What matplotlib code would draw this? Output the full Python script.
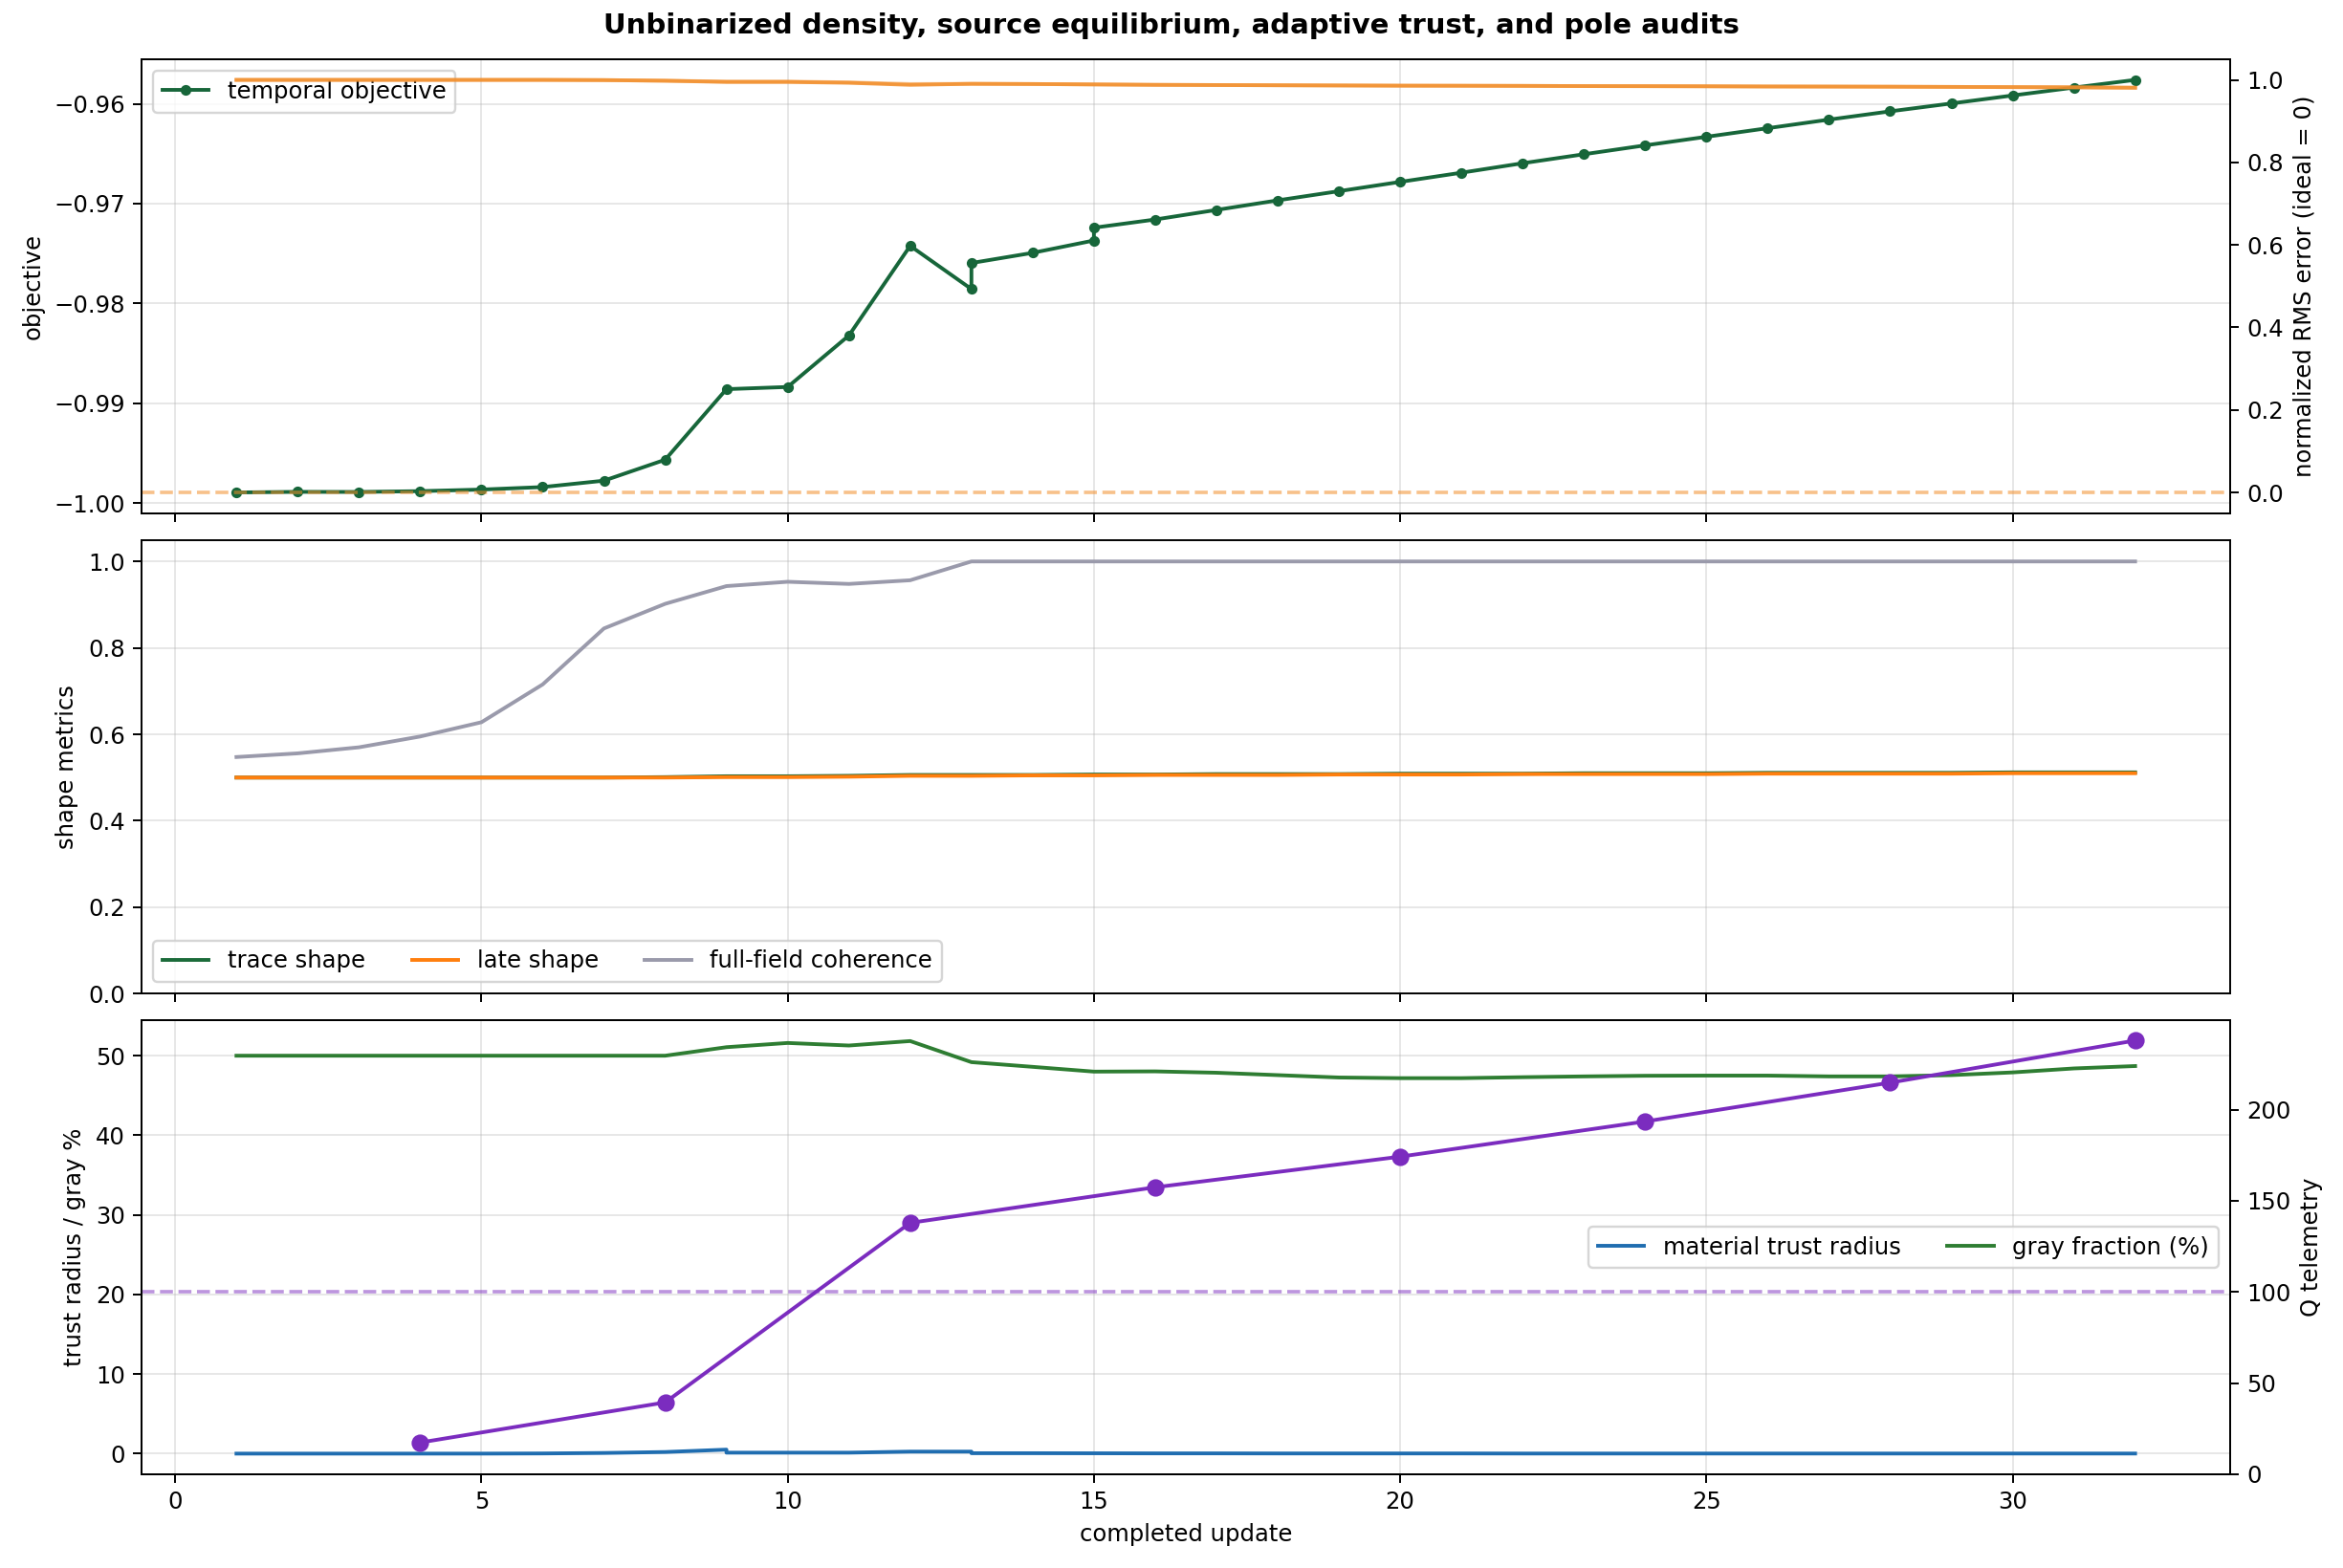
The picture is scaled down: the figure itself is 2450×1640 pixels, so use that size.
import numpy as np
import matplotlib
matplotlib.use("Agg")
import matplotlib.pyplot as plt

# ---------------- data ----------------
obj_x = [1, 2, 3, 4, 5, 6, 7, 8, 9, 10, 11, 12, 13, 13, 14, 15, 15, 16, 17, 18, 19, 20,
         21, 22, 23, 24, 25, 26, 27, 28, 29, 30, 31, 32]
objective = [-0.99895, -0.99889, -0.99890, -0.99882, -0.99866, -0.99841, -0.99777, -0.99567,
             -0.98860, -0.98838, -0.98322, -0.97424, -0.97857, -0.97596, -0.97494, -0.97370,
             -0.97242, -0.97160, -0.97064, -0.96968, -0.96876, -0.96783, -0.96691, -0.96596,
             -0.96506, -0.96417, -0.96331, -0.96245, -0.96159, -0.96076, -0.95997, -0.95917,
             -0.95838, -0.95761]
rms_a = [1.000, 1.000, 1.000, 1.000, 1.000, 1.000, 0.9995, 0.998, 0.995, 0.995, 0.993, 0.988,
         0.9905, 0.9905, 0.990, 0.989, 0.989, 0.988, 0.9875, 0.987, 0.9865, 0.986, 0.9858,
         0.9855, 0.985, 0.9848, 0.9845, 0.984, 0.9838, 0.9835, 0.983, 0.9825, 0.982, 0.981]
rms_b = [1.000, 1.000, 1.000, 1.000, 1.000, 1.000, 0.9995, 0.998, 0.996, 0.996, 0.994, 0.990,
         0.9905, 0.9905, 0.990, 0.989, 0.989, 0.988, 0.9875, 0.987, 0.9865, 0.986, 0.9858,
         0.9855, 0.985, 0.9848, 0.9845, 0.984, 0.9838, 0.9835, 0.983, 0.9825, 0.982, 0.981]

upd = list(range(1, 33))
trace_shape = [0.500, 0.500, 0.500, 0.500, 0.500, 0.500, 0.500, 0.501, 0.503, 0.503, 0.504,
               0.506, 0.506, 0.506, 0.507, 0.507, 0.508, 0.508, 0.508, 0.509, 0.509, 0.509,
               0.510, 0.510, 0.510, 0.511, 0.511, 0.511, 0.511, 0.512, 0.512, 0.512]
late_shape = [0.500, 0.500, 0.500, 0.500, 0.500, 0.500, 0.500, 0.500, 0.501, 0.501, 0.502,
              0.504, 0.504, 0.505, 0.505, 0.506, 0.506, 0.506, 0.507, 0.507, 0.507, 0.508,
              0.508, 0.508, 0.508, 0.509, 0.509, 0.509, 0.509, 0.510, 0.510, 0.510]
coherence = [0.5475, 0.556, 0.570, 0.595, 0.628, 0.7155, 0.845, 0.902, 0.943, 0.953, 0.948,
             0.9565, 1.0, 1.0, 1.0, 1.0, 1.0, 1.0, 1.0, 1.0, 1.0, 1.0, 1.0, 1.0, 1.0, 1.0,
             1.0, 1.0, 1.0, 1.0, 1.0, 1.0]

trust_x = [1, 2, 3, 4, 5, 6, 7, 8, 9, 9, 10, 11, 12, 13, 13, 14, 15, 16, 17, 18, 19, 20,
           21, 22, 23, 24, 25, 26, 27, 28, 29, 30, 31, 32]
trust_radius = [0.0, 0.0, 0.0, 0.0, 0.0, 0.02, 0.08, 0.2, 0.5, 0.12, 0.12, 0.12, 0.25, 0.25,
                0.05, 0.05, 0.04, 0.03, 0.03, 0.02, 0.02, 0.02, 0.02, 0.01, 0.01, 0.01, 0.01,
                0.01, 0.01, 0.01, 0.01, 0.01, 0.01, 0.01]
gray_frac = [50.0, 50.0, 50.0, 50.0, 50.0, 50.0, 50.0, 50.0, 51.07, 51.6, 51.28, 51.84, 49.19,
             48.6, 48.0, 48.03, 47.86, 47.56, 47.26, 47.18, 47.18, 47.3, 47.4, 47.48, 47.5,
             47.5, 47.4, 47.4, 47.56, 47.9, 48.4, 48.7]

q_x = [4, 8, 12, 16, 20, 24, 28, 32]
q_tel = [17.4, 39.4, 137.9, 157.4, 174.2, 193.5, 214.8, 237.9]
q_ref = 100

# ---------------- plot ----------------
DPI = 175
fig, axes = plt.subplots(3, 1, figsize=(2450 / DPI, 1640 / DPI), dpi=DPI, sharex=True)
fig.subplots_adjust(left=0.0604, right=0.9518, top=0.9622, bottom=0.0598, hspace=0.059)
fig.suptitle("Unbinarized density, source equilibrium, adaptive trust, and pole audits",
             fontsize=12, fontweight="bold", y=0.992)

c_obj = "#17663a"
c_rms = "#f28e2b"
LW = 1.6

# top
ax = axes[0]
ax.plot(obj_x, objective, color=c_obj, lw=LW, marker="o", ms=3.6, label="temporal objective")
ax.set_ylabel("objective")
ax.grid(True, alpha=0.3)
ax.legend(loc="upper left")
axr = ax.twinx()
axr.plot(obj_x, rms_b, color=c_rms, lw=LW, alpha=0.5)
axr.plot(obj_x, rms_a, color=c_rms, lw=LW, alpha=0.85)
axr.axhline(0.0, color=c_rms, ls="--", lw=1.5, alpha=0.55)
axr.set_ylabel("normalized RMS error (ideal = 0)")

# middle
ax = axes[1]
ax.plot(upd, trace_shape, color="#1b6b3a", lw=LW, label="trace shape")
ax.plot(upd, late_shape, color="#ff7f0e", lw=LW, label="late shape")
ax.plot(upd, coherence, color="#9a9aab", lw=LW, label="full-field coherence")
ax.set_ylim(0, 1.05)
ax.set_ylabel("shape metrics")
ax.grid(True, alpha=0.3)
ax.legend(loc="lower left", ncol=3)

# bottom
ax = axes[2]
ax.plot(trust_x, trust_radius, color="#1f6db0", lw=LW, label="material trust radius")
ax.plot(upd, gray_frac, color="#2e7d32", lw=LW, label="gray fraction (%)")
ax.set_ylabel("trust radius / gray %")
ax.set_xlabel("completed update")
ax.grid(True, alpha=0.3)
ax.legend(loc="center right", ncol=2)
axq = ax.twinx()
axq.plot(q_x, q_tel, color="#7b2cbf", lw=LW, marker="o", ms=6.5)
axq.axhline(q_ref, color="#7b2cbf", ls="--", lw=1.5, alpha=0.5)
axq.set_ylim(bottom=0)
axq.set_ylabel("Q telemetry")

fig.savefig("out.png", dpi=DPI)
